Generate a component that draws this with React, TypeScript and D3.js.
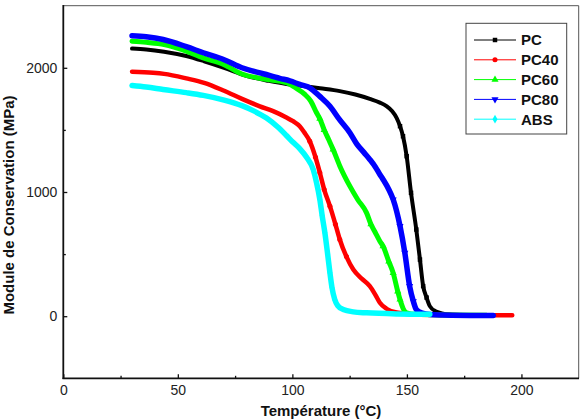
import * as d3 from "d3";
import { useRef, useEffect } from "react";

// Temperature (°C) / storage modulus (MPa)
const pcTemp = [30, 36.2, 44, 53.7, 61.5, 70.2, 79.9, 89.7, 97.4, 103.2, 112, 120.7, 127.5, 133.8, 138.2, 141.1, 143.6, 145.5, 147, 148.3, 149.9, 151.8, 154.1, 155.7, 157.1, 158.6, 160, 162.5, 168.7, 177.1, 186];
const pcModulus = [2155, 2148, 2130, 2095, 2053, 2000, 1935, 1895, 1870, 1857, 1835, 1812, 1785, 1750, 1720, 1691, 1650, 1597, 1530, 1449, 1288, 993, 698, 456, 242, 150, 81, 40, 14, 8, 5];

const pc40Temp = [30, 39.2, 44, 53.7, 61.5, 70.2, 78, 85.8, 91.6, 97.4, 100.3, 103.2, 105.2, 107.6, 110.1, 112, 113.9, 116.4, 118.8, 120.7, 123.6, 126.6, 130.4, 133.8, 136.3, 138.2, 141.1, 145.5, 155.7, 175.1, 196];
const pc40Modulus = [1968, 1960, 1951, 1915, 1879, 1815, 1750, 1690, 1651, 1600, 1570, 1530, 1480, 1409, 1280, 1155, 1020, 886, 740, 618, 480, 376, 300, 242, 170, 108, 60, 30, 12, 8, 8];

const pc60Temp = [30, 36.2, 44, 53.7, 61.1, 70.2, 78, 87.7, 97.4, 101.3, 105.2, 108.1, 110.5, 112, 113.9, 115.9, 117.8, 120.7, 125.1, 128.5, 132.4, 134.3, 136.3, 138.2, 139.6, 142.1, 144, 146, 147, 148.4, 149.9, 153.8, 165.4, 184.8];
const pc60Modulus = [2214, 2205, 2188, 2135, 2080, 2025, 1950, 1910, 1880, 1840, 1790, 1730, 1640, 1590, 1500, 1420, 1342, 1210, 1047, 940, 832, 740, 670, 604, 564, 440, 349, 200, 134, 60, 27, 15, 10, 8];

const pc80Temp = [30, 36.2, 43.6, 53.7, 61.1, 70.2, 78, 87.7, 94.5, 98.9, 103.2, 107.6, 112, 116.4, 120.7, 125.1, 128, 131.4, 133.8, 136.3, 138.2, 139.6, 142.1, 144, 147, 149.1, 151.2, 152.8, 154.1, 156.7, 160, 165.4, 187.7];
const pc80Modulus = [2258, 2250, 2228, 2170, 2121, 2065, 2000, 1950, 1915, 1895, 1866, 1839, 1770, 1691, 1580, 1477, 1390, 1315, 1262, 1200, 1141, 1101, 1020, 940, 725, 510, 242, 120, 54, 25, 14, 10, 5];

const absTemp = [30, 36.2, 43.6, 53.7, 61.1, 70.2, 78, 82.9, 88.7, 93.5, 97.4, 100.3, 103.2, 106.2, 109.1, 110.5, 112, 113, 114.2, 115.4, 116.4, 117.3, 118.5, 119.8, 122.2, 126.6, 132.4, 146, 160];
const absModulus = [1857, 1845, 1825, 1800, 1778, 1740, 1695, 1655, 1595, 1525, 1455, 1400, 1350, 1280, 1181, 1080, 940, 810, 671, 500, 349, 230, 134, 85, 54, 35, 27, 18, 15];

const xTicks = [0, 50, 100, 150, 200];
const xMinorTicks = [25, 75, 125, 175];
const yTicks = [0, 1000, 2000];
const yMinorTicks = [500, 1500];

const series = [
  { name: "PC", temp: pcTemp, modulus: pcModulus, color: "#000000", symbol: d3.symbolSquare, size: 20, flip: false, band: 4 },
  { name: "PC40", temp: pc40Temp, modulus: pc40Modulus, color: "#ff0000", symbol: d3.symbolCircle, size: 20, flip: false, band: 4.5 },
  { name: "PC60", temp: pc60Temp, modulus: pc60Modulus, color: "#00ff00", symbol: d3.symbolTriangle, size: 22, flip: false, band: 5 },
  { name: "PC80", temp: pc80Temp, modulus: pc80Modulus, color: "#0000ff", symbol: d3.symbolTriangle, size: 22, flip: true, band: 5.5 },
  { name: "ABS", temp: absTemp, modulus: absModulus, color: "#00ffff", symbol: d3.symbolDiamond, size: 22, flip: false, band: 5.5 },
];

const font = "Arial, 'Liberation Sans', sans-serif";

function draw(svgEl: SVGSVGElement | null) {
  if (!svgEl) return;
  const svg = d3.select(svgEl);
  svg.selectAll("*").remove();

  const x = d3.scaleLinear().domain([0, 225]).range([63.3, 578.7]);
  const y = d3.scaleLinear().domain([-500, 2500]).range([378.3, 5.7]);

  svg.append("rect").attr("width", 586).attr("height", 419).attr("fill", "#fff");

  // curves
  const line = d3
    .line<[number, number]>()
    .x((d) => x(d[0]))
    .y((d) => y(d[1]))
    .curve(d3.curveMonotoneX);

  series.forEach((s) => {
    const pts = s.temp.map((t, i) => [t, s.modulus[i]] as [number, number]);
    const g = svg.append("g");
    g.append("path")
      .attr("d", line(pts))
      .attr("fill", "none")
      .attr("stroke", s.color)
      .attr("stroke-width", s.band)
      .attr("stroke-linejoin", "round")
      .attr("stroke-linecap", "round");
    // individual markers only show where the curve falls steeply
    const steep = pts.filter((d, i) => {
      const a = pts[Math.max(0, i - 1)];
      const b = pts[Math.min(pts.length - 1, i + 1)];
      const dx = Math.abs(x(b[0]) - x(a[0]));
      const dy = Math.abs(y(b[1]) - y(a[1]));
      return dy > 2.2 * dx;
    });
    g.selectAll("path.m")
      .data(steep)
      .join("path")
      .attr("class", "m")
      .attr("d", d3.symbol(s.symbol, s.size)())
      .attr("fill", s.color)
      .attr("transform", (d) => `translate(${x(d[0])},${y(d[1])})${s.flip ? " rotate(180)" : ""}`);
  });

  // frame
  const frame = svg.append("g").attr("fill", "none");
  frame.append("line").attr("x1", 63.3).attr("x2", 578.7).attr("y1", 5.7).attr("y2", 5.7).attr("stroke", "#555").attr("stroke-width", 1);
  frame.append("line").attr("x1", 578.7).attr("x2", 578.7).attr("y1", 5.7).attr("y2", 378.3).attr("stroke", "#555").attr("stroke-width", 1);
  frame.append("line").attr("x1", 63.3).attr("x2", 63.3).attr("y1", 5).attr("y2", 379).attr("stroke", "#111").attr("stroke-width", 1.8);
  frame.append("line").attr("x1", 62.5).attr("x2", 579).attr("y1", 378.3).attr("y2", 378.3).attr("stroke", "#111").attr("stroke-width", 1.8);

  // axes
  const fmt = d3.format("d");
  const xAxis = svg
    .append("g")
    .attr("transform", "translate(0,378.3)")
    .call(d3.axisBottom(x).tickValues(xTicks).tickFormat(fmt).tickSizeInner(-4).tickSizeOuter(0).tickPadding(7));
  const xMinor = svg
    .append("g")
    .attr("transform", "translate(0,378.3)")
    .call(d3.axisBottom(x).tickValues(xMinorTicks).tickSizeInner(-2.5).tickSizeOuter(0).tickFormat(() => ""));
  const yAxis = svg
    .append("g")
    .attr("transform", "translate(63.3,0)")
    .call(d3.axisLeft(y).tickValues(yTicks).tickFormat(fmt).tickSizeInner(-4).tickSizeOuter(0).tickPadding(6));
  const yMinor = svg
    .append("g")
    .attr("transform", "translate(63.3,0)")
    .call(d3.axisLeft(y).tickValues(yMinorTicks).tickSizeInner(-2.5).tickSizeOuter(0).tickFormat(() => ""));

  [xAxis, xMinor, yAxis, yMinor].forEach((a) => {
    a.select(".domain").remove();
    a.selectAll("line").attr("stroke", "#111").attr("stroke-width", 1.3);
    a.selectAll("text").attr("font-family", font).attr("font-size", 14).attr("fill", "#222");
  });

  // axis titles
  svg
    .append("text")
    .attr("x", 321)
    .attr("y", 416)
    .attr("text-anchor", "middle")
    .attr("font-family", font)
    .attr("font-size", 15)
    .attr("font-weight", "bold")
    .attr("fill", "#111")
    .text("Température (°C)");

  svg
    .append("text")
    .attr("transform", "translate(14,205) rotate(-90)")
    .attr("text-anchor", "middle")
    .attr("font-family", font)
    .attr("font-size", 15)
    .attr("font-weight", "bold")
    .attr("fill", "#111")
    .text("Module de Conservation (MPa)");

  // legend
  const legend = svg.append("g");
  legend
    .append("rect")
    .attr("x", 466)
    .attr("y", 23.3)
    .attr("width", 100.7)
    .attr("height", 110.7)
    .attr("fill", "#fff")
    .attr("stroke", "#444")
    .attr("stroke-width", 1);

  const rows = legend
    .selectAll("g.row")
    .data(series)
    .join("g")
    .attr("class", "row")
    .attr("transform", (_, i) => `translate(0,${40 + i * 19.8})`);
  rows
    .append("line")
    .attr("x1", 474)
    .attr("x2", 516)
    .attr("stroke", (d) => d.color)
    .attr("stroke-width", 1);
  rows
    .append("path")
    .attr("d", (d) => d3.symbol(d.symbol, d.size)())
    .attr("fill", (d) => d.color)
    .attr("transform", (d) => `translate(495,0)${d.flip ? " rotate(180)" : ""}`);
  rows
    .append("text")
    .attr("x", 521)
    .attr("dy", "0.36em")
    .attr("font-family", font)
    .attr("font-size", 15)
    .attr("font-weight", "bold")
    .attr("fill", "#111")
    .text((d) => d.name);
}

const App = () => {
  const ref = useRef<SVGSVGElement | null>(null);

  useEffect(() => {
    draw(ref.current);
  }, []);

  return (
    <svg
      ref={ref}
      width={586}
      height={419}
      style={{ position: "absolute", left: 0, top: 0, display: "block" }}
    ></svg>
  );
};

export default App;
